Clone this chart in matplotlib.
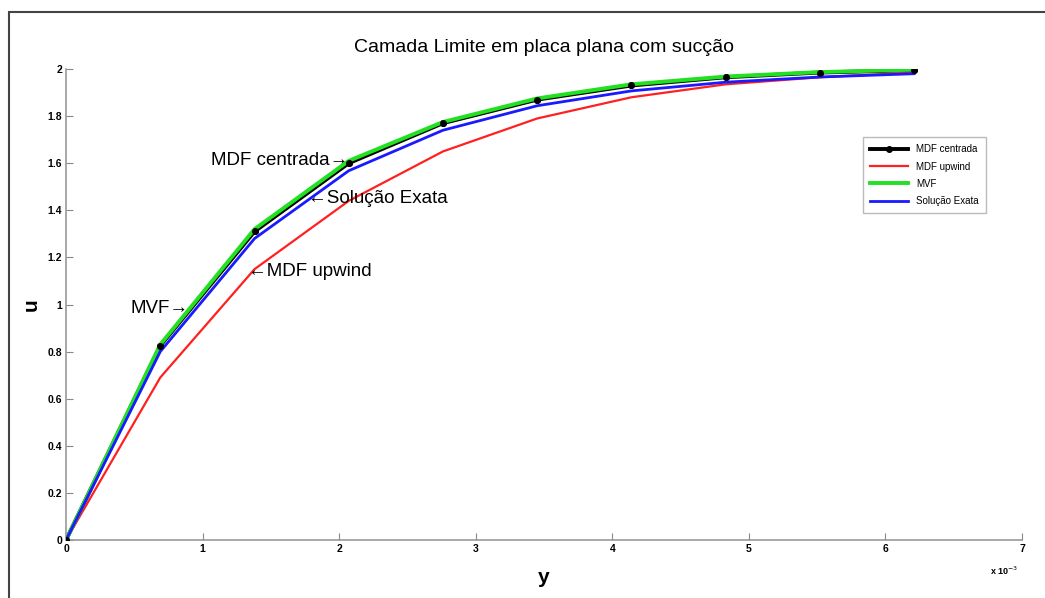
import matplotlib
matplotlib.use("Agg")
import matplotlib.pyplot as plt
import matplotlib.patches as patches

plt.rcParams['font.family'] = ['Liberation Sans', 'DejaVu Sans']

# malha em y (x 10^-3) e perfis de velocidade u
y = [0.0, 0.69, 1.38, 2.07, 2.76, 3.45, 4.14, 4.83, 5.52, 6.21]
u_centrada = [0.0, 0.825, 1.31, 1.60, 1.77, 1.87, 1.93, 1.965, 1.985, 1.995]
u_upwind = [0.0, 0.69, 1.15, 1.44, 1.65, 1.79, 1.88, 1.935, 1.965, 1.985]
u_mvf = [0.0, 0.83, 1.32, 1.61, 1.775, 1.875, 1.935, 1.968, 1.987, 1.997]
u_exata = [0.0, 0.80, 1.28, 1.568, 1.74, 1.844, 1.907, 1.944, 1.966, 1.98]

xticks = [0, 1, 2, 3, 4, 5, 6, 7]
yticks = [0, 0.2, 0.4, 0.6, 0.8, 1, 1.2, 1.4, 1.6, 1.8, 2]
yticklabels = ['0', '0.2', '0.4', '0.6', '0.8', '1', '1.2', '1.4', '1.6', '1.8', '2']

fig = plt.figure(figsize=(10.45, 5.98), dpi=100)
ax = fig.add_axes([0.0632, 0.097, 0.9148, 0.7876])

ax.plot(y, u_centrada, 'k-', marker='o', markersize=4, lw=2.8, label='MDF centrada', zorder=2)
ax.plot(y, u_upwind, color='#ff2020', lw=1.6, label='MDF upwind', zorder=3)
ax.plot(y, u_mvf, color='#22e022', lw=2.8, label='MVF', zorder=4)
ax.plot(y, u_exata, color='#1a1aff', lw=2.0, label='Solução Exata', zorder=5)
ax.plot(y, u_centrada, 'ko', markersize=4, zorder=6)

ax.set_xlim(0, 7)
ax.set_ylim(0, 2)
ax.set_xticks(xticks)
ax.set_yticks(yticks)
ax.set_yticklabels(yticklabels)
ax.tick_params(direction='in', length=5, color='#888888', labelsize=7.5, pad=3)
for lab in ax.get_xticklabels() + ax.get_yticklabels():
    lab.set_fontweight('bold')
for s in ['top', 'right']:
    ax.spines[s].set_visible(False)
for s in ['left', 'bottom']:
    ax.spines[s].set_color('#999999')
    ax.spines[s].set_linewidth(1.2)

ax.set_title('Camada Limite em placa plana com sucção', fontsize=14, pad=12)
ax.set_xlabel('y', fontsize=15, fontweight='bold', labelpad=10)
ax.set_ylabel('u', fontsize=15, fontweight='bold', labelpad=5)
fig.text(0.947, 0.038, r'x 10$^{-3}$', fontsize=6.5, fontweight='bold')

# anotações sobre as curvas
ann = dict(fontsize=13.5, va='center')
ax.text(2.07, 1.61, 'MDF centrada→', ha='right', **ann)
ax.text(1.77, 1.45, '←Solução Exata', ha='left', **ann)
ax.text(1.33, 1.14, '←MDF upwind', ha='left', **ann)
ax.text(0.90, 0.985, 'MVF→', ha='right', **ann)

leg = ax.legend(loc='upper right', bbox_to_anchor=(0.967, 0.865), fontsize=7,
                frameon=True, fancybox=False, handlelength=4, borderpad=0.7,
                labelspacing=0.75)
leg.get_frame().set_edgecolor('#aaaaaa')
leg.get_frame().set_linewidth(1.0)

# moldura da figura
fig.patches.append(patches.Rectangle((9 / 1045, -0.1), 2, 1.1 - 12 / 598,
                                     transform=fig.transFigure, fill=False,
                                     edgecolor='#444444', lw=1.5))

fig.savefig('out.png', dpi=100)
